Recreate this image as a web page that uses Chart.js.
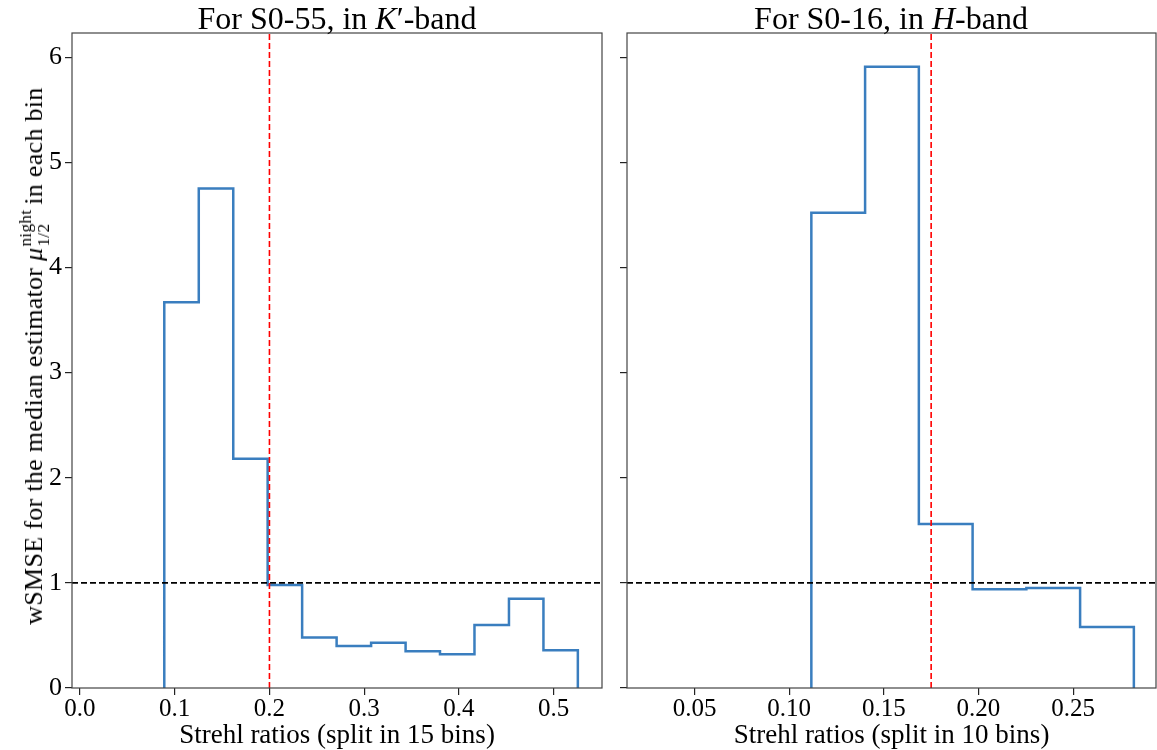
<!DOCTYPE html>
<html lang="en">
  <head>
    <meta charset="UTF-8" />
    <title>wSMSE per Strehl-ratio bin</title>
    <script src="https://cdn.jsdelivr.net/npm/chart.js"></script>
    <style>
      html, body {
        margin: 0;
        padding: 0;
        background: #fff;
      }
      .wrap {
        position: relative;
        width: 1157px;
        height: 750px;
        overflow: hidden;
        font-family: "Liberation Serif", "DejaVu Serif", serif;
        color: #000;
      }
      canvas {
        position: absolute;
        top: 0;
      }
      .title {
        position: absolute;
        top: 0;
        font-size: 32px;
        line-height: 36px;
        white-space: nowrap;
        transform: translateX(-50%);
      }
      .ylabel {
        position: absolute;
        left: 35px;
        top: 356px;
        font-size: 26px;
        letter-spacing: 0.3px;
        white-space: nowrap;
        transform: translate(-50%, -50%) rotate(-90deg);
      }
      .supsub {
        display: inline-block;
        vertical-align: -0.4em;
        font-size: 0.66em;
        line-height: 1.05;
        margin-left: 1px;
        margin-right: 5px;
      }
      .supsub span {
        display: block;
      }
    </style>
  </head>
  <body>
    <div class="wrap">
      <canvas id="leftChart" width="615" height="750" style="left:0"></canvas>
      <canvas id="rightChart" width="557" height="750" style="left:600px"></canvas>
      <div class="title" style="left:337px">For S0-55, in <i>K</i>′-band</div>
      <div class="title" style="left:891px">For S0-16, in <i>H</i>-band</div>
      <div class="ylabel">wSMSE for the median estimator <i>μ</i><span class="supsub"><span>night</span><span>1/2</span></span>in each bin</div>
    </div>

    <script>
      // left panel: S0-55, K'-band (15 bins, only the filled ones are drawn)
      const leftEdges = [0.089, 0.1254, 0.1618, 0.1981, 0.2345, 0.2709, 0.3073,
                         0.3437, 0.38, 0.4164, 0.4528, 0.4892, 0.5255];
      const leftValues = [3.67, 4.75, 2.18, 0.98, 0.48, 0.40, 0.43, 0.35, 0.32, 0.60, 0.85, 0.36];
      const leftTicks = [0.0, 0.1, 0.2, 0.3, 0.4, 0.5];
      const leftRange = [-0.0084, 0.551];
      const leftCut = 0.2;

      // right panel: S0-16, H-band (10 bins)
      const rightEdges = [0.1117, 0.1401, 0.1685, 0.1969, 0.2253, 0.2537, 0.2821];
      const rightValues = [4.52, 5.91, 1.56, 0.94, 0.95, 0.58];
      const rightTicks = [0.05, 0.10, 0.15, 0.20, 0.25];
      const rightRange = [0.0143, 0.2938];
      const rightCut = 0.175;

      const yTicks = [0, 1, 2, 3, 4, 5, 6];
      const yRange = [0, 6.23];
      const refLevel = 1;

      const FONT = "'Liberation Serif', 'DejaVu Serif', serif";

      // outline of a step histogram: up at the first edge, down at the last
      function stepPoints(edges, values) {
        const pts = [{ x: edges[0], y: 0 }];
        values.forEach((v, i) => pts.push({ x: edges[i], y: v }));
        pts.push({ x: edges[edges.length - 1], y: 0 });
        return pts;
      }

      const framePlugin = {
        id: "frame",
        afterDraw(chart) {
          const a = chart.chartArea;
          const ctx = chart.ctx;
          ctx.save();
          ctx.strokeStyle = "#444";
          ctx.lineWidth = 1.2;
          ctx.strokeRect(a.left, a.top, a.right - a.left, a.bottom - a.top);
          ctx.restore();
        },
      };

      function makeChart(id, cfg) {
        return new Chart(document.getElementById(id), {
          type: "line",
          data: {
            datasets: [
              {
                data: [{ x: cfg.cut, y: yRange[0] }, { x: cfg.cut, y: yRange[1] }],
                borderColor: "#ff0000",
                borderWidth: 1.6,
                borderDash: [6, 3],
              },
              {
                data: [{ x: cfg.range[0], y: refLevel }, { x: cfg.range[1], y: refLevel }],
                borderColor: "#000",
                borderWidth: 1.6,
                borderDash: [6, 3],
              },
              {
                data: stepPoints(cfg.edges, cfg.values),
                borderColor: "#3a7ebf",
                borderWidth: 2.5,
                stepped: "before",
              },
            ],
          },
          options: {
            responsive: false,
            animation: false,
            parsing: false,
            elements: { point: { radius: 0 }, line: { tension: 0 } },
            layout: { padding: { left: 0, top: 33, right: cfg.padRight, bottom: 0 } },
            plugins: { legend: { display: false }, tooltip: { enabled: false } },
            scales: {
              x: {
                type: "linear",
                min: cfg.range[0],
                max: cfg.range[1],
                afterBuildTicks: (s) => { s.ticks = cfg.ticks.map((v) => ({ value: v })); },
                afterFit: (s) => { s.height = 62; },
                border: { display: false },
                grid: { drawOnChartArea: false, drawTicks: true, tickLength: 7, color: "#222", lineWidth: 1.2 },
                ticks: {
                  color: "#000",
                  padding: 2,
                  maxRotation: 0,
                  font: { family: FONT, size: 25, lineHeight: 1 },
                  callback: (v) => v.toFixed(cfg.digits),
                },
                title: {
                  display: true,
                  text: cfg.xTitle,
                  color: "#000",
                  font: { family: FONT, size: 27, lineHeight: 1 },
                  padding: { top: 0, bottom: 1 },
                },
              },
              y: {
                type: "linear",
                min: yRange[0],
                max: yRange[1],
                afterBuildTicks: (s) => { s.ticks = yTicks.map((v) => ({ value: v })); },
                afterFit: (s) => { s.width = cfg.yWidth; },
                border: { display: false },
                grid: { drawOnChartArea: false, drawTicks: true, tickLength: 7, color: "#222", lineWidth: 1.2 },
                ticks: {
                  color: "#000",
                  padding: 3,
                  font: { family: FONT, size: 26, lineHeight: 1 },
                  callback: (v) => (cfg.yLabels ? String(v) : ""),
                },
              },
            },
          },
          plugins: [framePlugin],
        });
      }

      makeChart("leftChart", {
        edges: leftEdges, values: leftValues, ticks: leftTicks, range: leftRange,
        cut: leftCut, digits: 1, yWidth: 72, padRight: 13, yLabels: true,
        xTitle: "Strehl ratios (split in 15 bins)",
      });

      makeChart("rightChart", {
        edges: rightEdges, values: rightValues, ticks: rightTicks, range: rightRange,
        cut: rightCut, digits: 2, yWidth: 27, padRight: 1, yLabels: false,
        xTitle: "Strehl ratios (split in 10 bins)",
      });
    </script>
  </body>
</html>
